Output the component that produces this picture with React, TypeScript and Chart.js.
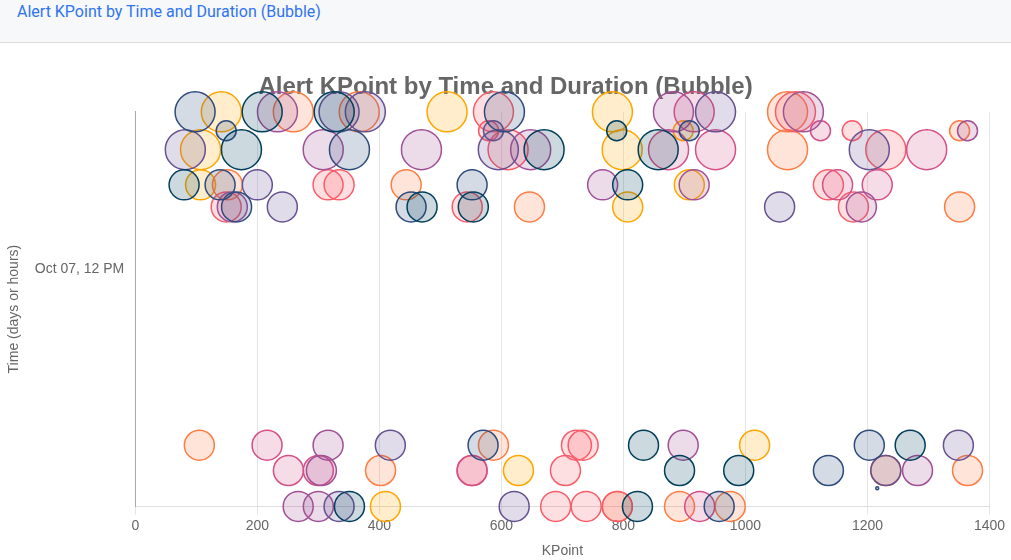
import React, { useEffect, useRef } from "react";
import { Chart, registerables } from "chart.js";

Chart.register(...registerables);
Chart.defaults.font.family = "'Liberation Sans', Arial, Helvetica, sans-serif";

// Each point: [KPoint, time (hours on Oct 07), duration (bubble radius)]
type P = [number, number, number];

const seriesColors = ["#003f5c", "#2f4b7c", "#665191", "#a05195", "#d45087", "#f95d6a", "#ff7c43", "#ffa600"];
const seriesNames = ["Group 1", "Group 2", "Group 3", "Group 4", "Group 5", "Group 6", "Group 7", "Group 8"];

const group1: P[] = [
  [208, 16, 20], [326, 16, 20], [789, 15.52, 10], [174, 15.04, 20], [670, 15.04, 20], [857, 15.04, 20],
  [80, 14.15, 15], [807, 14.15, 15], [470, 13.59, 15], [554, 13.59, 15], [833, 7.55, 15], [1270, 7.55, 15],
  [892, 6.91, 15], [989, 6.91, 15], [351, 6, 15], [823, 6, 15],
];
const group2: P[] = [
  [98, 16, 20], [605, 16, 20], [149, 15.52, 10], [908, 15.52, 10], [351, 15.04, 20], [139, 14.15, 15],
  [552, 14.15, 15], [166, 13.59, 15], [452, 13.59, 15], [570, 7.55, 15], [1203, 7.55, 15], [1136, 6.91, 15],
  [1216, 6.46, 1.5], [957, 6, 15],
];
const group3: P[] = [
  [334, 16, 20], [377, 16, 20], [951, 16, 20], [587, 15.52, 10], [82, 15.04, 20], [595, 15.04, 20],
  [1203, 15.04, 20], [200, 14.15, 15], [241, 13.59, 15], [1056, 13.59, 15], [418, 7.55, 15], [1349, 7.55, 15],
  [1230, 6.91, 15], [334, 6, 15], [621, 6, 15],
];
const group4: P[] = [
  [233, 16, 20], [882, 16, 20], [1095, 16, 20], [1364, 15.52, 10], [308, 15.04, 20], [469, 15.04, 20],
  [648, 15.04, 20], [766, 14.15, 15], [916, 14.15, 15], [159, 13.59, 15], [1190, 13.59, 15], [316, 7.55, 15],
  [898, 7.55, 15], [305, 6.91, 15], [1282, 6.91, 15], [267, 6, 15], [300, 6, 15],
];
const group5: P[] = [
  [916, 16, 20], [1123, 15.52, 10], [874, 15.04, 20], [951, 15.04, 20], [1297, 15.04, 20], [1151, 14.15, 15],
  [1216, 14.15, 15], [216, 7.55, 15], [251, 6.91, 15], [300, 6.91, 15], [552, 6.91, 15], [925, 6, 15],
];
const group6: P[] = [
  [587, 16, 20], [1082, 16, 20], [579, 15.52, 10], [1175, 15.52, 10], [611, 15.04, 20], [1230, 15.04, 20],
  [316, 14.15, 15], [334, 14.15, 15], [1136, 14.15, 15], [149, 13.59, 15], [544, 13.59, 15], [1177, 13.59, 15],
  [723, 7.55, 15], [734, 7.55, 15], [552, 6.91, 15], [705, 6.91, 15], [689, 6, 15], [739, 6, 15], [790, 6, 15],
];
const group7: P[] = [
  [259, 16, 20], [367, 16, 20], [1069, 16, 20], [1351, 15.52, 10], [1069, 15.04, 20], [151, 14.15, 15],
  [444, 14.15, 15], [646, 13.59, 15], [1351, 13.59, 15], [105, 7.55, 15], [587, 7.55, 15], [402, 6.91, 15],
  [1230, 6.91, 15], [1364, 6.91, 15], [790, 6, 15], [892, 6, 15], [975, 6, 15],
];
const group8: P[] = [
  [141, 16, 20], [511, 16, 20], [782, 16, 20], [898, 15.52, 10], [107, 15.04, 20], [798, 15.04, 20],
  [107, 14.15, 15], [908, 14.15, 15], [807, 13.59, 15], [1015, 7.55, 15], [628, 6.91, 15], [410, 6, 15],
];

const allSeries = [group1, group2, group3, group4, group5, group6, group7, group8];

const xTicks = [0, 200, 400, 600, 800, 1000, 1200, 1400];
const yTickValues = [12];
const yTickLabels = ["Oct 07, 12 PM"];

function hexA(hex: string, a: number) {
  const n = parseInt(hex.slice(1), 16);
  return `rgba(${(n >> 16) & 255}, ${(n >> 8) & 255}, ${n & 255}, ${a})`;
}

export default function App() {
  const ref = useRef<HTMLCanvasElement | null>(null);

  useEffect(() => {
    document.body.style.margin = "0";
    if (!ref.current) return;
    const chart = new Chart(ref.current, {
      type: "bubble",
      data: {
        datasets: allSeries.map((s, i) => ({
          label: seriesNames[i],
          data: s.map(([x, y, r]) => ({ x, y, r })),
          backgroundColor: hexA(seriesColors[i], 0.2),
          borderColor: seriesColors[i],
          borderWidth: 1.5,
          clip: false as any,
        })),
      },
      options: {
        animation: false,
        responsive: true,
        maintainAspectRatio: false,
        plugins: {
          legend: { display: false },
          tooltip: { enabled: false },
          title: {
            display: true,
            text: "Alert KPoint by Time and Duration (Bubble)",
            color: "#666",
            font: { size: 24, weight: "bold" },
            padding: { top: 10, bottom: 10 },
          },
        },
        scales: {
          x: {
            type: "linear",
            min: xTicks[0],
            max: xTicks[xTicks.length - 1],
            afterBuildTicks: (axis: any) => {
              axis.ticks = xTicks.map((v) => ({ value: v }));
            },
            ticks: { color: "#666", font: { size: 14 }, callback: (v: any) => String(v) },
            grid: { color: "#e5e5e5" },
            border: { color: "#dddddd" },
            title: {
              display: true,
              text: "KPoint",
              color: "#666",
              font: { size: 14 },
              padding: { top: 6, bottom: 0 },
            },
          },
          y: {
            type: "linear",
            min: 6,
            max: 16,
            afterBuildTicks: (axis: any) => {
              axis.ticks = yTickValues.map((v) => ({ value: v }));
            },
            ticks: {
              color: "#666",
              font: { size: 14 },
              callback: (v: any) => {
                const i = yTickValues.indexOf(Number(v));
                return i >= 0 ? yTickLabels[i] : "";
              },
            },
            grid: { display: false },
            border: { display: true, color: "#aaaaaa" },
            title: {
              display: true,
              text: "Time (days or hours)",
              color: "#666",
              font: { size: 14 },
              padding: { top: 6, bottom: 9 },
            },
          },
        },
      },
    });
    return () => chart.destroy();
  }, []);

  return (
    <div>
      <div
        style={{
          height: 42,
          boxSizing: "content-box",
          background: "#f7f8fa",
          borderBottom: "1px solid #dcdcdc",
          padding: "0 17px",
          lineHeight: "24px",
          fontFamily: "Roboto, 'Liberation Sans', Arial, sans-serif",
          fontSize: 16,
          color: "#2f74f0",
        }}
      >
        Alert KPoint by Time and Duration (Bubble)
      </div>
      <div style={{ paddingTop: 20 }}>
        <div style={{ position: "relative", height: 497 }}>
          <canvas ref={ref} />
        </div>
      </div>
    </div>
  );
}
